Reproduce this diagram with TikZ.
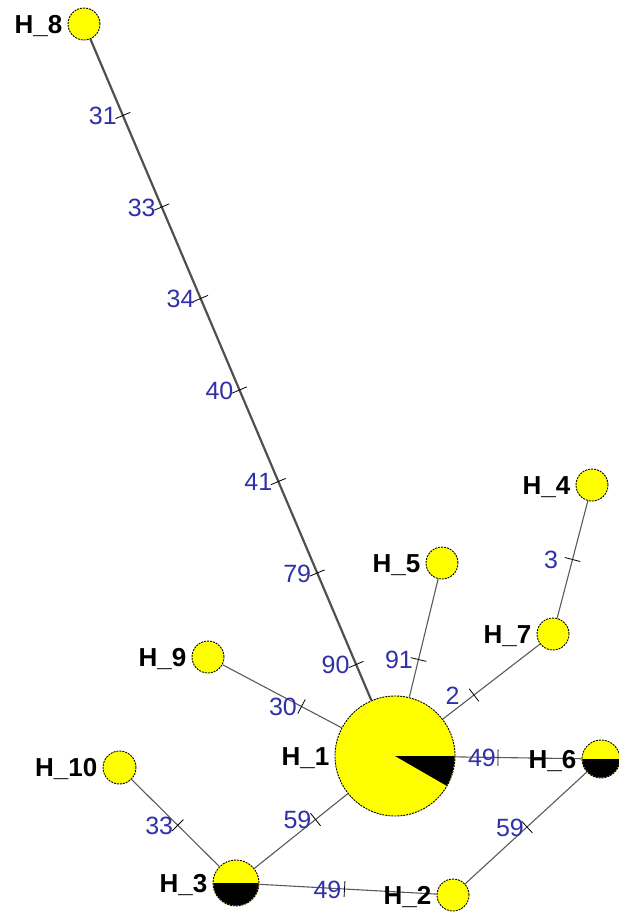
\documentclass[tikz,border=0pt]{standalone}
\usepackage{fontspec}
\setmainfont{Liberation Sans}
\usetikzlibrary{calc}
\definecolor{lblue}{RGB}{48,48,168}
\definecolor{hyellow}{RGB}{255,255,0}
\definecolor{edgegray}{RGB}{90,90,90}
\definecolor{longgray}{RGB}{80,80,80}
\newcommand{\hapedge}[4]{%
  \draw[edge] (#1) -- (#2);
  \coordinate (mid) at ($(#1)!0.5!(#2)$);
  \draw[tickmark] ($(mid)!8pt!90:(#2)$) -- ($(mid)!8pt!-90:(#2)$);
  \node[mut] at ([xshift=#4pt,yshift=-9pt]mid) {#3};}
\begin{document}
\begin{tikzpicture}[x=1pt,y=1pt,
  hap/.style={circle, fill=hyellow, draw=black, dash pattern=on 2pt off 1pt, line width=0.9pt, inner sep=0pt},
  edge/.style={draw=edgegray, line width=1.1pt},
  longedge/.style={draw=longgray, line width=2.2pt},
  tickmark/.style={draw=black, line width=0.8pt},
  mut/.style={text=lblue, font=\fontsize{25}{25}\selectfont, inner sep=0pt, anchor=base},
  hname/.style={font=\fontsize{26}{26}\selectfont\bfseries, inner sep=0pt, anchor=base east},
]
\useasboundingbox (0,0) rectangle (619,-914);

\node[hap, minimum size=32pt] (h8) at (84,-24) {};
\node[hap, minimum size=120pt] (h1) at (395,-756) {};
\node[hap, minimum size=32pt] (h5) at (442,-563) {};
\node[hap, minimum size=32pt] (h4) at (592,-485) {};
\node[hap, minimum size=32pt] (h7) at (553,-634) {};
\node[hap, minimum size=32pt] (h9) at (208,-657) {};
\node[hap, minimum size=33pt] (h10) at (119.5,-767.5) {};
\node[hap, minimum size=38pt] (h6) at (601,-759) {};
\node[hap, minimum size=46pt] (h3) at (236,-883) {};
\node[hap, minimum size=32pt] (h2) at (453,-895) {};

% pie slices
\fill (h1.center) -- ++(0:59.6) arc[start angle=0, end angle=-30, radius=59.6] -- cycle;
\fill (h6.center) ++(0:18.6) arc[start angle=0, end angle=-180, radius=18.6] -- cycle;
\fill (h3.center) ++(0:22.6) arc[start angle=0, end angle=-180, radius=22.6] -- cycle;

% long edge H_8 -- H_1
\draw[longedge] (h8) -- (h1);
\foreach \f/\t/\s in {1/31/-20, 2/33/-20, 3/34/-20, 4/40/-20, 5/41/-20, 6/79/-20, 7/90/-20.5} {
  \coordinate (m\f) at ($(h8)!\f*0.125!(h1)$);
  \draw[tickmark] ($(m\f)!8pt!90:(h1)$) -- ($(m\f)!8pt!-90:(h1)$);
  \node[mut] at ([xshift=\s pt,yshift=-9pt]m\f) {\t};
}

\hapedge{h1}{h5}{91}{-19.5}
\hapedge{h1}{h7}{2}{-21.5}
\hapedge{h7}{h4}{3}{-21.5}
\hapedge{h1}{h6}{49}{-16}
\hapedge{h9}{h1}{30}{-18.5}
\hapedge{h3}{h1}{59}{-18}
\hapedge{h10}{h3}{33}{-18.5}
\hapedge{h3}{h2}{49}{-17}
\hapedge{h2}{h6}{59}{-17}

% names
\foreach \n/\l in {h8/H\_8, h1/H\_1, h5/H\_5, h4/H\_4, h7/H\_7, h9/H\_9, h10/H\_10, h6/H\_6, h3/H\_3, h2/H\_2} {
  \node[hname] at ([xshift=-5pt,yshift=-9.3pt]\n.west) {\l};
}
\end{tikzpicture}
\end{document}
